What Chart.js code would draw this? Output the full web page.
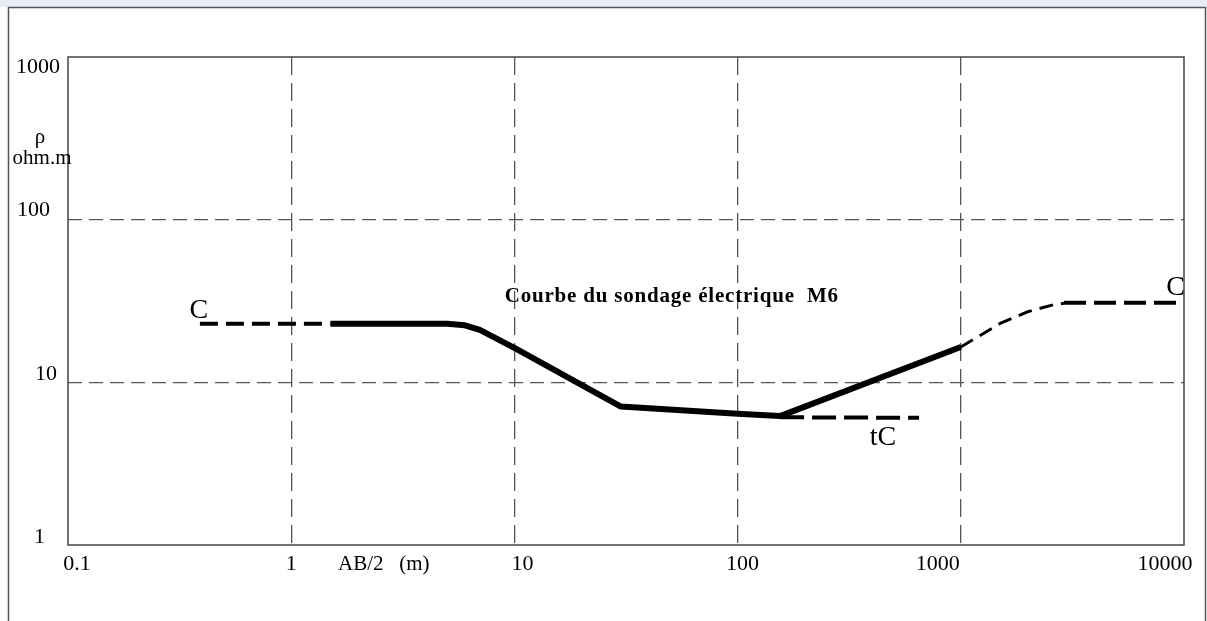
<!DOCTYPE html>
<html lang="fr">
<head>
<meta charset="utf-8">
<title>Courbe du sondage électrique M6</title>
<script src="https://cdn.jsdelivr.net/npm/chart.js@4.4.1/dist/chart.umd.min.js"></script>
<style>
  html, body { margin: 0; padding: 0; background: #fff; }
  #wrap { position: relative; width: 1207px; height: 621px; }
</style>
</head>
<body>
<div id="wrap"><canvas id="sondage" width="1207" height="621"></canvas></div>
<script>
// Sondage électrique M6 : résistivité apparente (ohm.m) selon AB/2 (m), en log-log.

const xTicks = [0.1, 1, 10, 100, 1000, 10000];
const xTickLabels = ["0.1", "1", "10", "100", "1000", "10000"];
const yTicks = [1, 10, 100, 1000];
const yTickLabels = ["1", "10", "100", "1000"];

// branche C à gauche (tiretée)
const gaucheAB = [0.39, 1.5];
const gaucheRho = [22.9, 22.9];

// courbe du sondage (trait épais)
const courbeAB = [1.5, 5, 6, 7, 10, 30, 100, 155, 1000];
const courbeRho = [22.9, 22.9, 22.4, 21, 16.3, 7.1, 6.4, 6.2, 16.5];

// prolongement tC
const tcAB = [155, 650];
const tcRho = [6.1, 6.05];

// raccord vers la branche C de droite (tireté fin)
const monteeAB = [1000, 1500, 2000, 2600, 2900];
const monteeRho = [16.5, 23, 27.2, 30, 30.6];

// branche C à droite (tiretée)
const droiteAB = [2900, 10000];
const droiteRho = [30.8, 30.8];

const pts = (xs, ys) => xs.map((x, i) => ({ x, y: ys[i] }));

function serie(data, width, dash) {
  return {
    data, borderColor: "#000", backgroundColor: "#000", borderWidth: width,
    borderDash: dash || [], pointRadius: 0, tension: 0,
    borderJoinStyle: "round", borderCapStyle: "butt",
  };
}

const serif = "'Liberation Serif', 'Times New Roman', serif";

// décalages des graduations, comme sur la feuille d'origine (pas tout à fait centrées)
const xLabelShift = [9, 0, 8, 5, -23, -19];
const yLabelRight = [45, 57, 50, 60];
const yLabelShift = [-8, -8, -9, 10];

// cadre, graduations, titres et étiquettes C / tC
const decor = {
  id: "decor",
  beforeDraw(chart) {
    const ctx = chart.ctx;
    ctx.save();
    ctx.fillStyle = "#e8edf5";
    ctx.fillRect(0, 0, chart.width, 7);
    ctx.strokeStyle = "#555";
    ctx.lineWidth = 1.5;
    ctx.beginPath();
    ctx.moveTo(8.5, chart.height);
    ctx.lineTo(8.5, 7.5);
    ctx.lineTo(1205.5, 7.5);
    ctx.lineTo(1205.5, chart.height);
    ctx.stroke();
    ctx.restore();
  },
  afterDraw(chart) {
    const { ctx, chartArea: a, scales: { x, y } } = chart;
    ctx.save();
    ctx.strokeStyle = "#444";
    ctx.lineWidth = 1.5;
    ctx.strokeRect(a.left, a.top, a.right - a.left, a.bottom - a.top);

    ctx.fillStyle = "#000";
    ctx.textBaseline = "middle";

    ctx.font = "22px " + serif;
    ctx.textAlign = "center";
    xTicks.forEach((v, i) => {
      ctx.fillText(xTickLabels[i], x.getPixelForValue(v) + xLabelShift[i], a.bottom + 19);
    });
    ctx.textAlign = "right";
    yTicks.forEach((v, i) => {
      ctx.fillText(yTickLabels[i], yLabelRight[i], y.getPixelForValue(v) + yLabelShift[i]);
    });

    ctx.font = "21px " + serif;
    ctx.textAlign = "center";
    ctx.fillText("ρ", 40, 137);
    ctx.fillText("ohm.m", 42, 158);
    ctx.textAlign = "left";
    ctx.fillText("AB/2   (m)", 338, 564);

    ctx.font = "bold 21px " + serif;
    ctx.letterSpacing = "0.8px";
    ctx.textAlign = "center";
    ctx.fillText("Courbe du sondage électrique  M6", a.left + (a.right - a.left) * 0.541, y.getPixelForValue(33.5));
    ctx.letterSpacing = "0px";

    ctx.font = "28px " + serif;
    ctx.fillText("C", x.getPixelForValue(gaucheAB[0]) - 1, y.getPixelForValue(gaucheRho[0]) - 13);
    ctx.fillText("tC", x.getPixelForValue(tcAB[1]) - 36, y.getPixelForValue(tcRho[1]) + 20);
    ctx.textAlign = "right";
    ctx.fillText("C", a.right + 1, y.getPixelForValue(droiteRho[1]) - 15);
    ctx.restore();
  },
};

const gridColor = (ends) => (c) => (ends.includes(c.tick.value) ? "rgba(0,0,0,0)" : "#555");

new Chart(document.getElementById("sondage"), {
  type: "line",
  data: {
    datasets: [
      serie(pts(gaucheAB, gaucheRho), 4, [18, 8]),
      serie(pts(courbeAB, courbeRho), 6),
      serie(pts(tcAB, tcRho), 4, [24, 8]),
      serie(pts(monteeAB, monteeRho), 3, [14, 8]),
      serie(pts(droiteAB, droiteRho), 4, [22, 8]),
    ],
  },
  options: {
    responsive: false,
    animation: false,
    events: [],
    layout: { padding: { top: 57, right: 23, left: 0, bottom: 0 } },
    plugins: { legend: { display: false }, tooltip: { enabled: false } },
    scales: {
      x: {
        type: "logarithmic", min: 0.1, max: 10000,
        afterBuildTicks: (s) => { s.ticks = xTicks.map((v) => ({ value: v })); },
        afterFit: (s) => { s.height = 76; s.paddingLeft = 0; s.paddingRight = 0; },
        grid: { color: gridColor([0.1, 10000]), lineWidth: 1.3, drawTicks: false },
        border: { display: false, dash: [18, 8] },
        ticks: { display: false },
      },
      y: {
        type: "logarithmic", min: 1, max: 1000,
        afterBuildTicks: (s) => { s.ticks = yTicks.map((v) => ({ value: v })); },
        afterFit: (s) => { s.width = 68; s.paddingTop = 0; s.paddingBottom = 0; },
        grid: { color: gridColor([1, 1000]), lineWidth: 1.3, drawTicks: false },
        border: { display: false, dash: [14, 7] },
        ticks: { display: false },
      },
    },
  },
  plugins: [decor],
});
</script>
</body>
</html>
